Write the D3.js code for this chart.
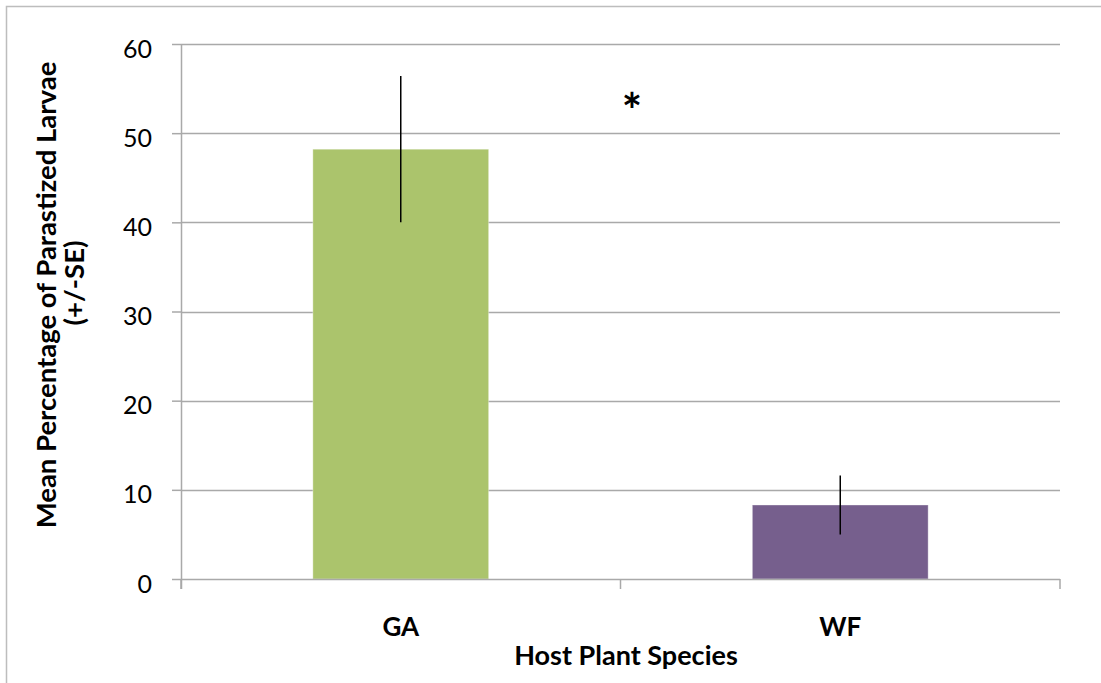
<!DOCTYPE html>
<html>
<head>
<meta charset="utf-8">
<script src="https://cdn.jsdelivr.net/npm/d3@7"></script>
<style>
  html, body { margin: 0; padding: 0; background: #ffffff; }
  svg { display: block; }
  text { font-family: Lato, "Open Sans", sans-serif; fill: #000; }
</style>
</head>
<body>
<svg id="chart" width="1101" height="683"></svg>
<script>
// Host plant species and mean percentage of parasitized larvae (+/- SE)
const species = ["GA", "WF"];
const meanParasitized = [48.2, 8.3];
const standardError = [8.2, 3.3];
const barColors = ["#abc46c", "#765f8d"];
const yTicks = [0, 10, 20, 30, 40, 50, 60];
const yTitleLines = ["Mean Percentage of Parastized Larvae", "(+/-SE)"];
const xTitle = "Host Plant Species";
const significance = "*";

const svg = d3.select("#chart");
const W = 1101, H = 683;
const margin = { top: 44, right: 41, bottom: 104, left: 181 };
const innerW = W - margin.left - margin.right;
const innerH = H - margin.top - margin.bottom;

// outer chart frame
svg.append("rect")
  .attr("x", 6.5).attr("y", 6.5)
  .attr("width", W + 10).attr("height", H + 10)
  .attr("fill", "none").attr("stroke", "#bdbdbd").attr("stroke-width", 1.5);

const g = svg.append("g").attr("transform", `translate(${margin.left},${margin.top})`);

const x = d3.scaleBand().domain(species).range([0, innerW])
  .paddingInner(0.6).paddingOuter(0.3);
const y = d3.scaleLinear().domain([0, 60]).range([innerH, 0]);

// horizontal gridlines
g.append("g").selectAll("line").data(yTicks.filter(d => d > 0)).join("line")
  .attr("x1", 0).attr("x2", innerW)
  .attr("y1", d => Math.round(y(d)) + 0.5).attr("y2", d => Math.round(y(d)) + 0.5)
  .attr("stroke", "#a9a9a9").attr("stroke-width", 1.5);

// y axis
const yAxis = g.append("g")
  .call(d3.axisLeft(y).tickValues(yTicks).tickSize(9).tickPadding(20).tickFormat(d3.format("d")));
yAxis.select(".domain").remove();
yAxis.selectAll(".tick line").attr("stroke", "#a9a9a9").attr("stroke-width", 1.5);
yAxis.selectAll(".tick text").style("font-size", "25px").style("font-family", "Lato, sans-serif").attr("fill", "#000").attr("dy", "0.52em");
g.append("line")
  .attr("x1", 0.5).attr("x2", 0.5).attr("y1", 0).attr("y2", innerH + 10)
  .attr("stroke", "#a9a9a9").attr("stroke-width", 1.5);

// bars
g.append("g").selectAll("rect").data(species).join("rect")
  .attr("x", d => x(d))
  .attr("y", (d, i) => y(meanParasitized[i]))
  .attr("width", x.bandwidth())
  .attr("height", (d, i) => innerH - y(meanParasitized[i]))
  .attr("fill", (d, i) => barColors[i])
  .attr("stroke", "#ffffff").attr("stroke-opacity", 0.35).attr("stroke-width", 1);

// x axis: baseline and category boundary ticks
g.append("line")
  .attr("x1", 0).attr("x2", innerW).attr("y1", innerH + 0.5).attr("y2", innerH + 0.5)
  .attr("stroke", "#a9a9a9").attr("stroke-width", 1.5);
const boundaries = [0, ...species.map(d => x(d) + x.bandwidth() + x.step() * x.paddingInner() / 2)];
g.append("g").selectAll("line").data(boundaries.map((b, i) => i === species.length ? innerW : b)).join("line")
  .attr("x1", d => d).attr("x2", d => d)
  .attr("y1", innerH).attr("y2", innerH + 10)
  .attr("stroke", "#a9a9a9").attr("stroke-width", 1.5);

// category labels
g.append("g").selectAll("text").data(species).join("text")
  .attr("x", d => x(d) + x.bandwidth() / 2)
  .attr("y", innerH + 57)
  .attr("text-anchor", "middle")
  .style("font-size", "26px").style("font-weight", "bold")
  .text(d => d);

// error bars (no caps)
g.append("g").selectAll("line").data(species).join("line")
  .attr("x1", d => x(d) + x.bandwidth() / 2)
  .attr("x2", d => x(d) + x.bandwidth() / 2)
  .attr("y1", (d, i) => y(meanParasitized[i] + standardError[i]))
  .attr("y2", (d, i) => y(meanParasitized[i] - standardError[i]))
  .attr("stroke", "#000").attr("stroke-width", 1.5);

// significance marker
g.append("text")
  .attr("x", 451).attr("y", 84)
  .attr("text-anchor", "middle")
  .style("font-size", "48px").style("font-weight", "bold")
  .text(significance);

// axis titles
svg.append("text")
  .attr("x", 626).attr("y", 665)
  .attr("text-anchor", "middle")
  .style("font-size", "27px").style("font-weight", "bold")
  .text(xTitle);

const yTitle = svg.append("g");
yTitle.append("text")
  .attr("transform", "translate(56,295) rotate(-90)")
  .attr("text-anchor", "middle")
  .style("font-size", "27.5px").style("font-weight", "bold")
  .text(yTitleLines[0]);
yTitle.append("text")
  .attr("transform", "translate(84,283) rotate(-90)")
  .attr("text-anchor", "middle")
  .style("font-size", "27.5px").style("font-weight", "bold")
  .text(yTitleLines[1]);
</script>
</body>
</html>
